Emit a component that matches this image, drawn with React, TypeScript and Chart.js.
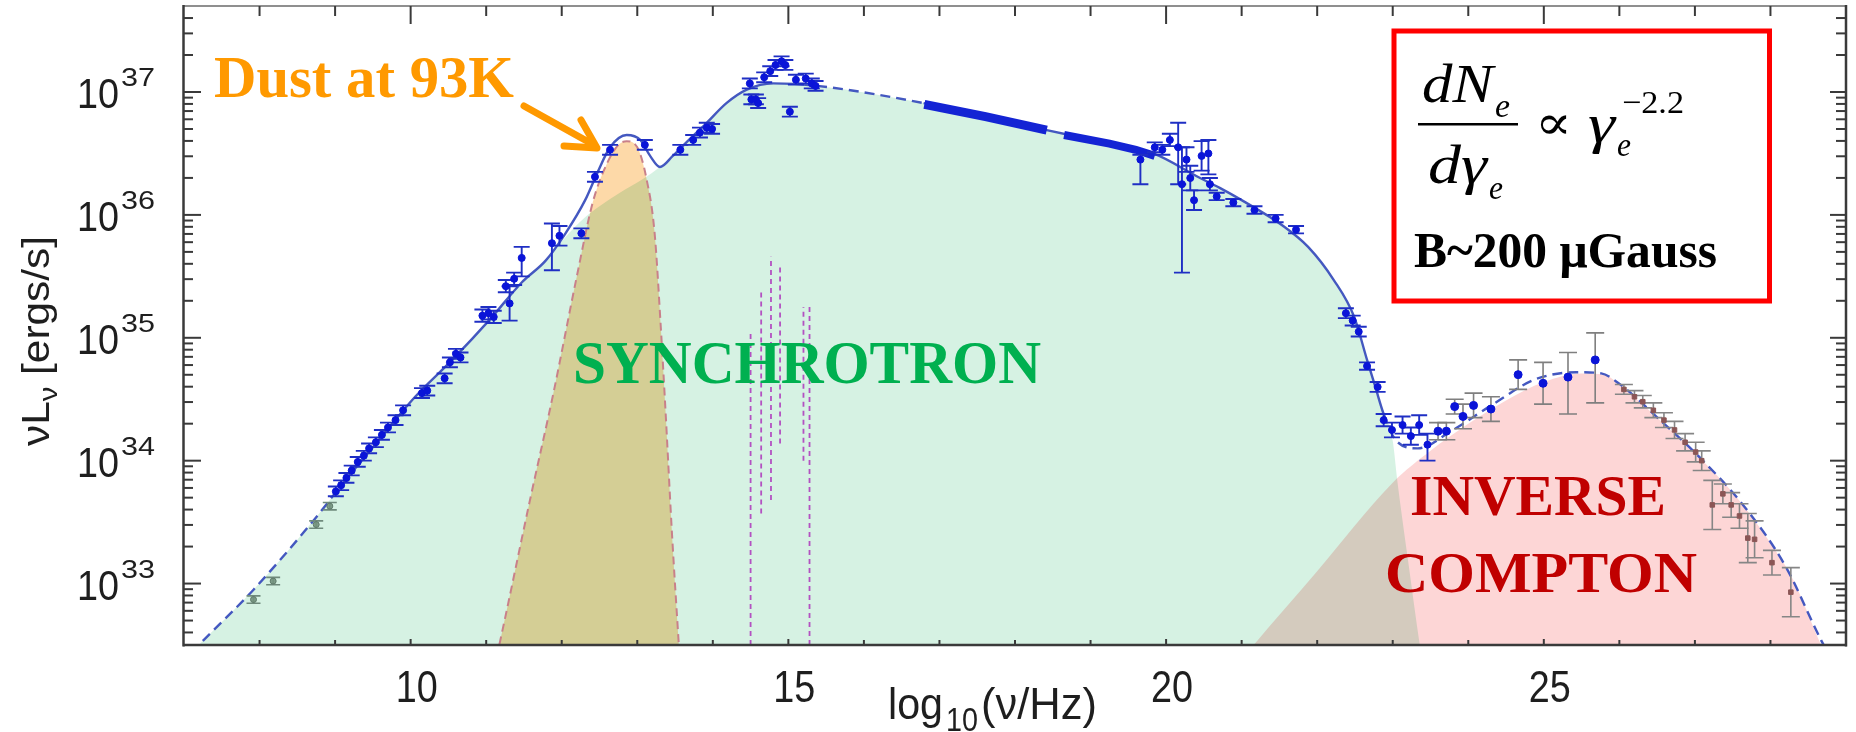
import React, { useEffect, useRef } from 'react';
import { Chart, registerables } from 'chart.js';

Chart.register(...registerables);

// ---------------- axes ----------------
const X_MIN = 7;
const X_MAX = 29;
const Y_MIN_LOG = 32.5;
const Y_MAX_LOG = 37.7;
const xMajorTicks = [10, 15, 20, 25];
const xTickLabels = ['10', '15', '20', '25'];
const yDecades = [33, 34, 35, 36, 37];
const yMinorMultipliers = [2, 3, 4, 5, 6, 7, 8, 9];

// ---------------- model curves (log10 nu, log10 nuL_nu) ----------------
const totalNu = [7.10, 7.26, 7.92, 8.75, 9.07, 9.54, 10.06, 10.55, 11.05, 11.47, 11.79, 12.05, 12.31, 12.47, 12.64, 12.86, 13.04, 13.17, 13.30, 13.47, 13.65, 13.92, 14.18, 14.45, 14.80, 15.38, 16.79, 18.42, 19.25, 19.83, 20.45, 20.71, 21.00, 21.55, 21.88, 22.22, 22.49, 22.66, 22.77, 22.88, 23.05, 23.33, 23.77, 24.33, 24.88, 25.43, 25.76, 25.99, 26.54, 27.09, 27.65, 28.20, 28.67, 28.75];
const totalL = [32.44, 32.54, 32.95, 33.54, 33.79, 34.14, 34.52, 34.82, 35.15, 35.45, 35.63, 35.85, 36.12, 36.34, 36.55, 36.65, 36.61, 36.48, 36.39, 36.48, 36.59, 36.75, 36.91, 37.02, 37.07, 37.05, 36.91, 36.69, 36.58, 36.50, 36.30, 36.22, 36.12, 35.91, 35.74, 35.47, 35.17, 34.82, 34.60, 34.38, 34.16, 34.10, 34.24, 34.46, 34.66, 34.72, 34.71, 34.63, 34.33, 34.01, 33.63, 33.14, 32.54, 32.45];
const dashedRanges = [[7.0, 8.95], [15.4, 16.8], [22.95, 29.0]];

const synchNu = [7.10, 7.26, 7.92, 8.75, 9.07, 9.54, 10.06, 10.55, 11.05, 11.47, 11.79, 12.05, 12.31, 12.50, 12.77, 13.07, 13.30, 13.47, 13.65, 13.92, 14.18, 14.45, 14.80, 15.38, 16.79, 18.42, 19.25, 19.83, 20.45, 20.71, 21.00, 21.55, 21.88, 22.22, 22.49, 22.66, 22.77, 22.88, 23.00, 23.06, 23.20, 23.36, 23.42];
const synchL = [32.44, 32.54, 32.95, 33.54, 33.79, 34.14, 34.52, 34.82, 35.15, 35.45, 35.63, 35.82, 35.98, 36.07, 36.18, 36.29, 36.39, 36.48, 36.59, 36.75, 36.91, 37.02, 37.07, 37.05, 36.91, 36.69, 36.58, 36.50, 36.30, 36.22, 36.12, 35.91, 35.74, 35.47, 35.17, 34.82, 34.60, 34.40, 34.16, 33.84, 33.20, 32.49, 32.25];

const dustNu = [11.10, 11.17, 11.58, 11.89, 12.20, 12.41, 12.60, 12.75, 12.86, 13.00, 13.12, 13.23, 13.31, 13.37, 13.46, 13.55, 13.58];
const dustL = [32.30, 32.49, 33.68, 34.55, 35.50, 36.10, 36.42, 36.57, 36.60, 36.55, 36.30, 35.85, 35.10, 34.45, 33.40, 32.50, 32.20];

const icNu = [21.08, 21.16, 22.00, 23.00, 23.50, 24.00, 24.50, 25.00, 25.50, 25.80, 26.00, 26.50, 27.00, 27.50, 28.00, 28.30, 28.67, 28.75];
const icL = [32.44, 32.50, 33.10, 33.82, 34.08, 34.30, 34.49, 34.64, 34.71, 34.70, 34.62, 34.35, 34.06, 33.74, 33.33, 33.03, 32.50, 32.40];

// ---------------- observed data ----------------
const radioNu = [7.92, 8.18, 8.75, 8.93];
const radioL = [32.87, 33.02, 33.48, 33.63];
const radioErr = [0.03, 0.03, 0.03, 0.03];

const blueNu = [9.01, 9.08, 9.15, 9.22, 9.30, 9.38, 9.45, 9.54, 9.62, 9.70, 9.80, 9.90, 10.15, 10.22, 10.45, 10.52, 10.60, 10.66, 10.95, 11.03, 11.10, 11.26, 11.31, 11.37, 11.47, 11.87, 11.97, 12.26, 12.44, 12.64, 13.10, 13.57, 13.74, 13.83, 13.92, 13.99, 14.49, 14.51, 14.57, 14.60, 14.68, 14.76, 14.83, 14.91, 14.96, 15.02, 15.10, 15.23, 15.31, 15.36, 19.66, 19.85, 19.95, 20.05, 20.16, 20.21, 20.27, 20.32, 20.37, 20.47, 20.56, 20.58, 20.67, 20.89, 21.17, 21.45, 21.72, 22.38, 22.47, 22.55, 22.66, 22.80, 22.88, 22.99, 23.13, 23.24, 23.35, 23.46];
const blueL = [33.75, 33.80, 33.86, 33.92, 33.99, 34.04, 34.10, 34.15, 34.21, 34.27, 34.33, 34.41, 34.55, 34.57, 34.67, 34.80, 34.87, 34.84, 35.18, 35.20, 35.17, 35.42, 35.28, 35.48, 35.65, 35.77, 35.83, 35.85, 36.31, 36.53, 36.57, 36.53, 36.61, 36.67, 36.71, 36.70, 37.07, 36.94, 36.94, 36.91, 37.12, 37.17, 37.22, 37.25, 37.22, 36.84, 37.10, 37.11, 37.07, 37.05, 36.45, 36.55, 36.53, 36.61, 36.55, 36.25, 36.45, 36.30, 36.12, 36.48, 36.50, 36.25, 36.15, 36.10, 36.04, 35.97, 35.88, 35.20, 35.14, 35.05, 34.77, 34.60, 34.33, 34.25, 34.29, 34.20, 34.29, 34.13];
const blueErrLo = [0.04, 0.04, 0.04, 0.04, 0.04, 0.04, 0.04, 0.04, 0.04, 0.04, 0.04, 0.04, 0.04, 0.04, 0.04, 0.04, 0.04, 0.04, 0.05, 0.05, 0.05, 0.05, 0.14, 0.05, 0.15, 0.22, 0.08, 0.04, 0.04, 0.04, 0.04, 0.04, 0.04, 0.04, 0.04, 0.04, 0.04, 0.04, 0.04, 0.04, 0.04, 0.04, 0.04, 0.04, 0.04, 0.04, 0.04, 0.04, 0.04, 0.04, 0.20, 0.04, 0.04, 0.05, 0.30, 0.72, 0.10, 0.10, 0.08, 0.12, 0.17, 0.05, 0.03, 0.03, 0.03, 0.03, 0.03, 0.04, 0.04, 0.04, 0.03, 0.04, 0.05, 0.06, 0.07, 0.07, 0.08, 0.13];
const blueErrHi = [0.04, 0.04, 0.04, 0.04, 0.04, 0.04, 0.04, 0.04, 0.04, 0.04, 0.04, 0.04, 0.04, 0.04, 0.04, 0.04, 0.04, 0.04, 0.05, 0.05, 0.05, 0.05, 0.14, 0.05, 0.09, 0.16, 0.08, 0.04, 0.04, 0.04, 0.04, 0.04, 0.04, 0.04, 0.04, 0.04, 0.04, 0.04, 0.04, 0.04, 0.04, 0.04, 0.04, 0.04, 0.04, 0.04, 0.04, 0.04, 0.04, 0.04, 0.04, 0.04, 0.04, 0.05, 0.20, 0.30, 0.10, 0.10, 0.08, 0.12, 0.11, 0.05, 0.03, 0.03, 0.03, 0.03, 0.03, 0.04, 0.04, 0.04, 0.03, 0.04, 0.05, 0.06, 0.07, 0.07, 0.08, 0.09];

const xrayBand1Nu = [16.80, 17.61, 18.42];
const xrayBand1L = [36.90, 36.80, 36.69];
const xrayBand2Nu = [18.65, 19.25, 19.60, 19.85];
const xrayBand2L = [36.65, 36.58, 36.53, 36.48];

const gammaNu = [23.60, 23.71, 23.82, 23.93, 24.07, 24.30, 24.66, 24.99, 25.32, 25.68];
const gammaL = [34.24, 34.24, 34.44, 34.36, 34.45, 34.42, 34.70, 34.63, 34.68, 34.82];
const gammaErrLo = [0.07, 0.07, 0.06, 0.10, 0.10, 0.10, 0.12, 0.17, 0.30, 0.35];
const gammaErrHi = [0.07, 0.07, 0.06, 0.10, 0.10, 0.10, 0.12, 0.17, 0.20, 0.22];

const tevNu = [26.06, 26.20, 26.31, 26.45, 26.59, 26.73, 26.87, 27.01, 27.09, 27.23, 27.37, 27.48, 27.59, 27.70, 27.79, 28.02, 28.27];
const tevL = [34.58, 34.52, 34.48, 34.41, 34.33, 34.25, 34.15, 34.07, 34.00, 33.64, 33.73, 33.64, 33.55, 33.37, 33.36, 33.17, 32.93];
const tevErr = [0.04, 0.05, 0.05, 0.06, 0.06, 0.07, 0.07, 0.08, 0.08, 0.20, 0.08, 0.10, 0.10, 0.20, 0.15, 0.10, 0.20];

const lineNu = [14.50, 14.64, 14.77, 14.89, 15.20, 15.28];
const lineTop = [35.04, 35.39, 35.66, 35.59, 35.25, 35.25];
const lineBottom = [32.50, 33.57, 33.68, 34.14, 34.00, 32.50];

// ---------------- helpers ----------------
const SANS = '"Liberation Sans", Arial, Helvetica, sans-serif';
const SERIF = '"Liberation Serif", "Times New Roman", "DejaVu Serif", serif';
const TICK_COLOR = '#1e1e1e';

const pts = (nu: number[], L: number[]) => nu.map((x, i) => ({ x, y: Math.pow(10, L[i]) }));

const emissionData: any[] = [];
lineNu.forEach((nu, i) => {
  emissionData.push({ x: nu, y: Math.pow(10, lineBottom[i]) });
  emissionData.push({ x: nu, y: Math.pow(10, lineTop[i]) });
  emissionData.push({ x: nu, y: null });
});

type Piece = { t: string; f: string; dy: number };
function drawPieces(ctx: CanvasRenderingContext2D, list: Piece[], x: number, y: number, length: number, color: string, rot = 0) {
  ctx.save();
  let total = 0;
  const ws = list.map((p) => {
    ctx.font = p.f;
    const w = ctx.measureText(p.t).width;
    total += w;
    return w;
  });
  const s = length / total;
  ctx.translate(x, y);
  ctx.rotate(rot);
  ctx.scale(s, 1);
  ctx.fillStyle = color;
  ctx.textAlign = 'left';
  ctx.textBaseline = 'alphabetic';
  let cx = 0;
  list.forEach((p, i) => {
    ctx.font = p.f;
    ctx.fillText(p.t, cx, p.dy);
    cx += ws[i];
  });
  ctx.restore();
}
const one = (t: string, f: string): Piece[] => [{ t, f, dy: 0 }];

const dashSeg = (ctx: any) => {
  const m = (ctx.p0.parsed.x + ctx.p1.parsed.x) / 2;
  return dashedRanges.some((r) => m >= r[0] && m <= r[1]) ? [10, 6] : undefined;
};

const decorPlugin = {
  id: 'sedDecor',
  beforeDraw(chart: any) {
    const { ctx, width, height } = chart;
    ctx.save();
    ctx.globalCompositeOperation = 'source-over';
    ctx.fillStyle = '#ffffff';
    ctx.fillRect(0, 0, width, height);
    ctx.restore();
    // translucent-looking overlap of the component fills
    ctx.globalCompositeOperation = 'multiply';
  },
  beforeDatasetDraw(chart: any, args: any) {
    const ctx = chart.ctx;
    ctx.globalCompositeOperation = 'source-over';
    const ds: any = chart.data.datasets[args.index];
    if (!ds.errLo) return;
    const ys = chart.scales.y;
    const a = chart.chartArea;
    ctx.save();
    ctx.beginPath();
    ctx.rect(a.left, a.top, a.right - a.left, a.bottom - a.top);
    ctx.clip();
    ctx.strokeStyle = ds.errColor;
    ctx.lineWidth = ds.errWidth;
    args.meta.data.forEach((el: any, i: number) => {
      const L = ds.logL[i];
      const x = el.x;
      const y1 = ys.getPixelForValue(Math.pow(10, L + ds.errHi[i]));
      const y2 = ys.getPixelForValue(Math.pow(10, L - ds.errLo[i]));
      const c = ds.capHalf;
      ctx.beginPath();
      ctx.moveTo(x, y1); ctx.lineTo(x, y2);
      ctx.moveTo(x - c, y1); ctx.lineTo(x + c, y1);
      ctx.moveTo(x - c, y2); ctx.lineTo(x + c, y2);
      ctx.stroke();
    });
    ctx.restore();
  },
  afterDatasetsDraw(chart: any) {
    const { ctx, chartArea: a } = chart;
    const xs = chart.scales.x;
    const ys = chart.scales.y;
    const seg = (x1: number, y1: number, x2: number, y2: number) => {
      ctx.beginPath(); ctx.moveTo(x1, y1); ctx.lineTo(x2, y2); ctx.stroke();
    };
    ctx.save();
    ctx.globalCompositeOperation = 'source-over';
    ctx.lineCap = 'butt';
    ctx.strokeStyle = '#8f8f8f';
    ctx.lineWidth = 2;
    seg(a.left, a.top, a.right, a.top);
    ctx.strokeStyle = '#3a3a3a';
    ctx.lineWidth = 2.5;
    seg(a.left - 0.5, a.top - 1, a.left - 0.5, a.bottom + 1.5);
    seg(a.left - 1, a.bottom, a.right + 1, a.bottom);
    seg(a.right, a.top - 1, a.right, a.bottom + 1.5);
    ctx.lineWidth = 2;
    for (let v = Math.ceil(X_MIN); v <= X_MAX; v++) {
      const px = xs.getPixelForValue(v);
      if (px <= a.left + 2 || px >= a.right - 2) continue;
      const major = xMajorTicks.includes(v);
      seg(px, a.top, px, a.top + (major ? 18 : 10));
      seg(px, a.bottom, px, a.bottom - (major ? 6 : 5));
    }
    for (let n = Math.floor(Y_MIN_LOG); n <= Math.ceil(Y_MAX_LOG); n++) {
      [1, ...yMinorMultipliers].forEach((k) => {
        const lv = n + Math.log10(k);
        if (lv <= Y_MIN_LOG + 0.01 || lv >= Y_MAX_LOG - 0.01) return;
        const py = ys.getPixelForValue(k * Math.pow(10, n));
        const major = k === 1;
        seg(a.left, py, a.left + (major ? 17 : 9), py);
        seg(a.right, py, a.right - (major ? 16 : 10), py);
      });
    }
    ctx.restore();
  },
  afterDraw(chart: any) {
    const ctx: CanvasRenderingContext2D = chart.ctx;
    const xs = chart.scales.x;
    const ys = chart.scales.y;
    ctx.save();
    ctx.globalCompositeOperation = 'source-over';

    // tick labels
    yDecades.forEach((n) => {
      const py = ys.getPixelForValue(Math.pow(10, n));
      drawPieces(ctx, one('10', `42px ${SANS}`), 77, py + 16, 42, TICK_COLOR);
      drawPieces(ctx, one(String(n), `25px ${SANS}`), 121, py - 6, 34, TICK_COLOR);
    });
    xMajorTicks.forEach((v, i) => {
      const px = xs.getPixelForValue(v) + 6;
      drawPieces(ctx, one(xTickLabels[i], `44px ${SANS}`), px - 21, 702, 42, TICK_COLOR);
    });

    // axis titles
    drawPieces(ctx, one('log', `44px ${SANS}`), 888, 719, 55, TICK_COLOR);
    drawPieces(ctx, one('10', `34px ${SANS}`), 946, 731, 32, TICK_COLOR);
    drawPieces(ctx, one('(ν/Hz)', `44px ${SANS}`), 981, 719, 116, TICK_COLOR);
    drawPieces(ctx, [
      { t: 'ν', f: `38px ${SANS}`, dy: 0 },
      { t: 'L', f: `38px ${SANS}`, dy: 0 },
      { t: 'ν', f: `26px ${SANS}`, dy: 8 },
      { t: ' [ergs/s]', f: `38px ${SANS}`, dy: 0 },
    ], 49, 446, 210, TICK_COLOR, -Math.PI / 2);

    // component labels
    drawPieces(ctx, one('SYNCHROTRON', `bold 62px ${SERIF}`), 573, 383, 468, '#00b050');
    drawPieces(ctx, one('INVERSE', `bold 58px ${SERIF}`), 1410, 515, 256, '#c00000');
    drawPieces(ctx, one('COMPTON', `bold 58px ${SERIF}`), 1385, 592, 312, '#c00000');
    drawPieces(ctx, one('Dust at 93K', `bold 60px ${SERIF}`), 214, 97, 300, '#ff9900');

    // arrow
    ctx.strokeStyle = '#ff9900';
    ctx.lineWidth = 7;
    ctx.lineCap = 'round';
    ctx.lineJoin = 'round';
    ctx.beginPath();
    ctx.moveTo(524, 106);
    ctx.lineTo(594, 145);
    ctx.stroke();
    ctx.beginPath();
    ctx.moveTo(564, 146);
    ctx.lineTo(597, 148);
    ctx.lineTo(581, 120);
    ctx.stroke();

    // parameter box
    ctx.strokeStyle = '#ff0000';
    ctx.lineWidth = 5;
    ctx.lineJoin = 'miter';
    ctx.strokeRect(1394, 31, 375.5, 270);
    const ink = '#000000';
    drawPieces(ctx, one('dN', `italic 54px ${SERIF}`), 1422, 102, 71, ink);
    drawPieces(ctx, one('e', `italic 34px ${SERIF}`), 1495, 117, 15, ink);
    ctx.fillStyle = ink;
    ctx.fillRect(1418, 123, 100, 2.5);
    drawPieces(ctx, one('dγ', `italic 54px ${SERIF}`), 1428, 183, 59, ink);
    drawPieces(ctx, one('e', `italic 34px ${SERIF}`), 1489, 199, 14, ink);
    drawPieces(ctx, one('∝', `48px ${SERIF}`), 1535, 139, 37, ink);
    drawPieces(ctx, one('γ', `italic 54px ${SERIF}`), 1588, 142, 27, ink);
    drawPieces(ctx, one('e', `italic 34px ${SERIF}`), 1617, 156, 14, ink);
    drawPieces(ctx, one('−2.2', `32px ${SERIF}`), 1622, 113, 62, ink);
    drawPieces(ctx, one('B~200 μGauss', `bold 51px ${SERIF}`), 1414, 267, 303, ink);

    ctx.restore();
  },
};

export default function App() {
  const ref = useRef<HTMLCanvasElement>(null);
  useEffect(() => {
    const canvas = ref.current;
    if (!canvas) return;
    const datasets: any[] = [
      {
        label: 'radio', data: pts(radioNu, radioL), showLine: false, order: 0,
        pointRadius: 3, pointBackgroundColor: 'rgba(115,145,125,0.9)', pointBorderColor: '#5f7a6a', pointBorderWidth: 1,
        logL: radioL, errLo: radioErr, errHi: radioErr, errColor: '#6f8a7c', errWidth: 1.6, capHalf: 7,
      },
      {
        label: 'blue', data: pts(blueNu, blueL), showLine: false, order: 0,
        pointRadius: 3.5, pointBackgroundColor: '#0a14d8', pointBorderColor: '#0a14d8', pointBorderWidth: 1,
        logL: blueL, errLo: blueErrLo, errHi: blueErrHi, errColor: '#1f2fc4', errWidth: 1.9, capHalf: 8,
      },
      {
        label: 'gamma', data: pts(gammaNu, gammaL), showLine: false, order: 0,
        pointRadius: 4, pointBackgroundColor: '#0a14d8', pointBorderColor: '#0a14d8', pointBorderWidth: 1,
        logL: gammaL, errLo: gammaErrLo, errHi: gammaErrHi, errColor: '#7f7f7f', errWidth: 1.6, capHalf: 9,
      },
      {
        label: 'tev', data: pts(tevNu, tevL), showLine: false, order: 0,
        pointRadius: 3.2, pointStyle: 'rect', pointBackgroundColor: '#8b5656', pointBorderColor: '#8b5656', pointBorderWidth: 1,
        logL: tevL, errLo: tevErr, errHi: tevErr, errColor: '#868686', errWidth: 1.6, capHalf: 9,
      },
      {
        label: 'xray1', data: pts(xrayBand1Nu, xrayBand1L), order: 1, pointRadius: 0,
        borderColor: '#1424d4', borderWidth: 9, fill: false,
      },
      {
        label: 'xray2', data: pts(xrayBand2Nu, xrayBand2L), order: 1, pointRadius: 0,
        borderColor: '#1424d4', borderWidth: 8, fill: false,
      },
      {
        label: 'total', data: pts(totalNu, totalL), order: 2, pointRadius: 0,
        borderColor: '#4458c0', borderWidth: 2.4, fill: false, cubicInterpolationMode: 'monotone',
        segment: { borderDash: dashSeg },
      },
      {
        label: 'lines', data: emissionData, order: 3, pointRadius: 0, spanGaps: false,
        borderColor: 'rgba(170,40,185,0.8)', borderWidth: 1.8, borderDash: [5, 4], fill: false, tension: 0,
      },
      {
        label: 'dust', data: pts(dustNu, dustL), order: 4, pointRadius: 0,
        borderColor: '#c9808a', borderWidth: 2, borderDash: [8, 5], cubicInterpolationMode: 'monotone',
        fill: 'start', backgroundColor: 'rgb(253,217,168)',
      },
      {
        label: 'synch', data: pts(synchNu, synchL), order: 5, pointRadius: 0,
        borderWidth: 0, borderColor: 'rgba(0,0,0,0)', cubicInterpolationMode: 'monotone',
        fill: 'start', backgroundColor: 'rgb(214,242,227)',
      },
      {
        label: 'ic', data: pts(icNu, icL), order: 6, pointRadius: 0,
        borderWidth: 0, borderColor: 'rgba(0,0,0,0)', cubicInterpolationMode: 'monotone',
        fill: 'start', backgroundColor: 'rgb(253,214,214)',
      },
    ];
    const chart = new Chart(canvas, {
      type: 'line',
      data: { datasets },
      options: {
        responsive: false,
        animation: false,
        events: [],
        layout: { padding: { left: 184, top: 6, right: 10, bottom: 87 } },
        scales: {
          x: { type: 'linear', min: X_MIN, max: X_MAX, display: false },
          y: { type: 'logarithmic', min: Math.pow(10, Y_MIN_LOG), max: Math.pow(10, Y_MAX_LOG), display: false },
        },
        plugins: {
          legend: { display: false },
          tooltip: { enabled: false },
          title: { display: false },
          filler: { drawTime: 'beforeDatasetsDraw', propagate: false },
        },
      } as any,
      plugins: [decorPlugin as any],
    });
    return () => chart.destroy();
  }, []);
  return (
    <div style={{ position: 'absolute', left: 0, top: 0, width: 1856, height: 732 }}>
      <canvas ref={ref} width={1856} height={732} style={{ display: 'block', width: 1856, height: 732 }} />
    </div>
  );
}
